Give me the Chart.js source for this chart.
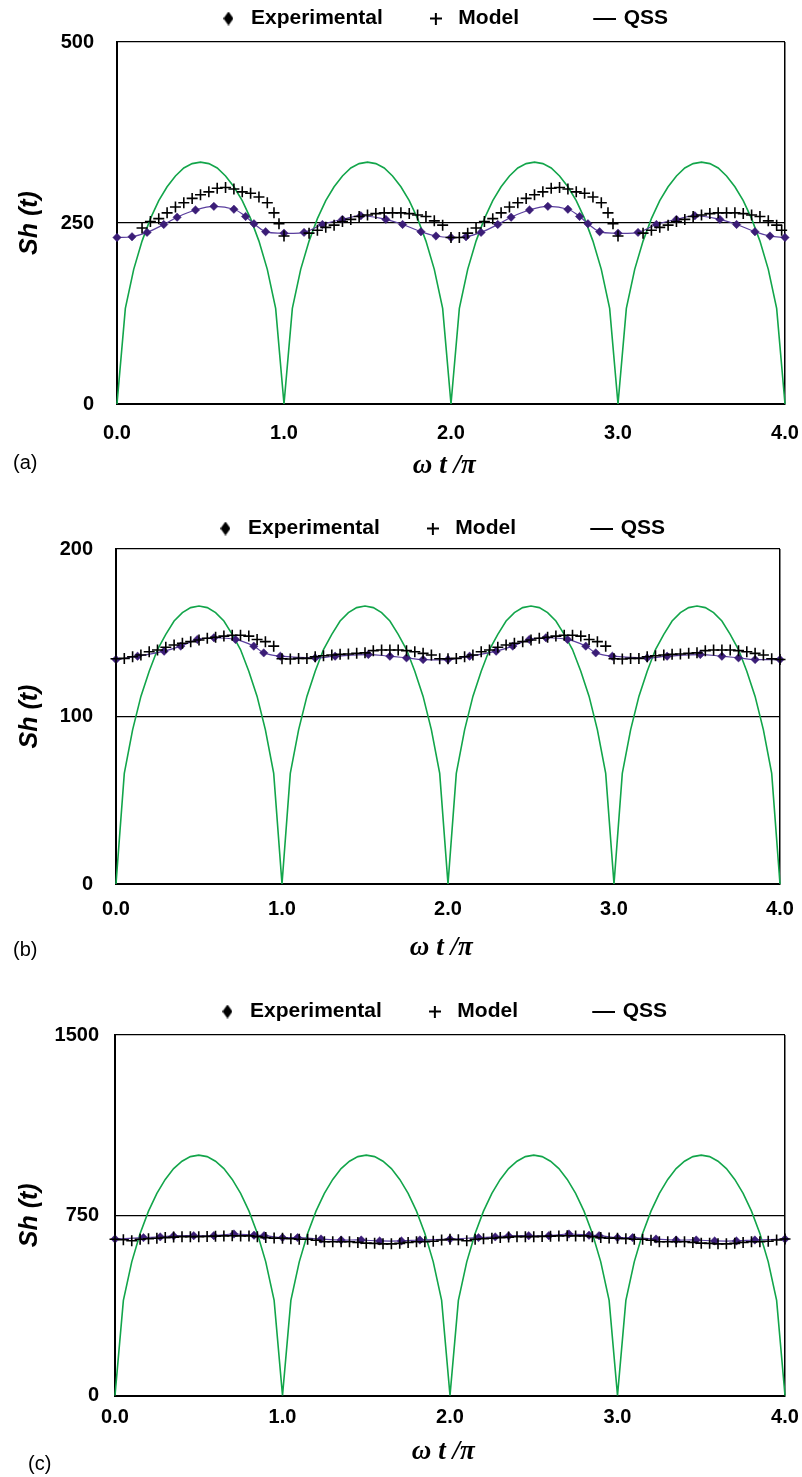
<!DOCTYPE html>
<html><head><meta charset="utf-8">
<script src="https://cdn.jsdelivr.net/npm/chart.js@4.4.1/dist/chart.umd.min.js"></script>
<style>
html,body{margin:0;padding:0;background:#fff;}
body{width:802px;height:1477px;position:relative;overflow:hidden;}
canvas{position:absolute;left:0;}
.tag{position:absolute;font:20px 'Liberation Sans',Arial,sans-serif;color:#000;line-height:23px;white-space:nowrap;}
</style></head>
<body>
<canvas id="ca" width="802" height="480" style="top:2px"></canvas>
<canvas id="cb" width="802" height="452" style="top:512px"></canvas>
<canvas id="cc" width="802" height="473" style="top:995px"></canvas>
<div class="tag" style="left:13px;top:451px">(a)</div>
<div class="tag" style="left:13px;top:938px">(b)</div>
<div class="tag" style="left:28px;top:1452px">(c)</div>
<script>
// ---------- text ----------
const legendLabels = ['Experimental', 'Model', 'QSS'];
const legendSpaces = [6, 11, 3];
const xTitle = 'ω t /π';
const xTitleTrail = 2;
const yTitle = 'Sh (t)';

// ---------- shared x grid (ωt/π) ----------
const gridX = [0,0.05,0.1,0.15,0.2,0.25,0.3,0.35,0.4,0.45,0.5,0.55,0.6,0.65,0.7,0.75,0.8,0.85,0.9,0.95,
1,1.05,1.1,1.15,1.2,1.25,1.3,1.35,1.4,1.45,1.5,1.55,1.6,1.65,1.7,1.75,1.8,1.85,1.9,1.95,
2,2.05,2.1,2.15,2.2,2.25,2.3,2.35,2.4,2.45,2.5,2.55,2.6,2.65,2.7,2.75,2.8,2.85,2.9,2.95,
3,3.05,3.1,3.15,3.2,3.25,3.3,3.35,3.4,3.45,3.5,3.55,3.6,3.65,3.7,3.75,3.8,3.85,3.9,3.95,4];

// ---------- panel (a) ----------
const yTicksA = [0, 250, 500];
const expXA = [0,0.09,0.18,0.28,0.36,0.47,0.58,0.70,0.77,0.82,0.89,1.00,1.12,1.23,1.35,1.46,1.61,1.71,1.82,1.91,
2.00,2.09,2.18,2.28,2.36,2.47,2.58,2.70,2.77,2.82,2.89,3.00,3.12,3.23,3.35,3.46,3.61,3.71,3.82,3.91,4.00];
const expYA = [230,231,237,248,258,268,273,269,259,249,238,236,237,248,255,260,255,248,238,232,
230,231,237,248,258,268,273,269,259,249,238,236,237,248,255,260,255,248,238,232,230];
const modelXA = [0.15,0.2,0.25,0.3,0.35,0.4,0.45,0.5,0.55,0.6,0.65,0.7,0.75,0.8,0.85,0.9,0.94,0.97,1.0,
1.15,1.2,1.25,1.3,1.35,1.4,1.45,1.5,1.55,1.6,1.65,1.7,1.75,1.8,1.85,1.9,1.95,
2.0,2.05,2.1,2.15,2.2,2.25,2.3,2.35,2.4,2.45,2.5,2.55,2.6,2.65,2.7,2.75,2.8,2.85,2.9,2.94,2.97,3.0,
3.15,3.2,3.25,3.3,3.35,3.4,3.45,3.5,3.55,3.6,3.65,3.7,3.75,3.8,3.85,3.9,3.95,3.98];
const modelYA = [243,252,256,264,272,278,284,289,293,298,299,297,293,291,286,278,264,249,232,
236,240,244,247,252,255,259,261,263,264,264,264,263,261,259,253,247,
230,230,236,243,252,256,264,272,278,284,289,293,298,299,297,293,291,286,278,264,249,232,
236,240,244,247,252,255,259,261,263,264,264,264,263,261,259,253,247,240];
const qssYA = [0,132,186,225,256,281,300,315,326,332,334,332,326,315,300,281,256,225,186,132,
0,132,186,225,256,281,300,315,326,332,334,332,326,315,300,281,256,225,186,132,
0,132,186,225,256,281,300,315,326,332,334,332,326,315,300,281,256,225,186,132,
0,132,186,225,256,281,300,315,326,332,334,332,326,315,300,281,256,225,186,132,0];

// ---------- panel (b) ----------
const yTicksB = [0, 100, 200];
const expXB = [0,0.13,0.29,0.39,0.49,0.59,0.72,0.83,0.89,0.99,1.20,1.32,1.52,1.65,1.75,1.85,
2.00,2.13,2.29,2.39,2.49,2.59,2.72,2.83,2.89,2.99,3.20,3.32,3.52,3.65,3.75,3.85,4.00];
const expYB = [134,136,139,142,146,147,146,142,138,136,135,136,137,136,135,134,
134,136,139,142,146,147,146,142,138,136,135,136,137,136,135,134,134];
const modelYB = [134.5,134.7,135.7,136.7,138.7,139.7,141.3,142.7,143.7,144.7,145.7,146.7,147.3,148,148.5,148.5,148,146,144.7,142,
134.5,134.3,134.7,134.7,135.7,136.3,136.7,137.1,137.3,137.7,138,139.3,139.7,139.7,139.7,139.3,138.7,137.7,136.7,134.5,
134.5,134.7,135.7,136.7,138.7,139.7,141.3,142.7,143.7,144.7,145.7,146.7,147.3,148,148.5,148.5,148,146,144.7,142,
134.5,134.3,134.7,134.7,135.7,136.3,136.7,137.1,137.3,137.7,138,139.3,139.7,139.7,139.7,139.3,138.7,137.7,136.7,134.5,134];
const qssYB = [0,66,92,112,127,140,149,157,162,165,166,165,162,157,149,140,127,112,92,66,
0,66,92,112,127,140,149,157,162,165,166,165,162,157,149,140,127,112,92,66,
0,66,92,112,127,140,149,157,162,165,166,165,162,157,149,140,127,112,92,66,
0,66,92,112,127,140,149,157,162,165,166,165,162,157,149,140,127,112,92,66,0];

// ---------- panel (c) ----------
const yTicksC = [0, 750, 1500];
const expXC = [0,0.17,0.27,0.35,0.47,0.59,0.71,0.83,0.89,1.00,1.09,1.23,1.35,1.47,1.58,1.71,1.82,
2.00,2.17,2.27,2.35,2.47,2.59,2.71,2.83,2.89,3.00,3.09,3.23,3.35,3.47,3.58,3.71,3.82,4.00];
const expYC = [651,657,660,664,665,665,672,667,665,657,657,651,647,647,643,643,647,
651,657,660,664,665,665,672,667,665,657,657,651,647,647,643,643,647,651];
const modelYC = [650,648,644,650,652,654,657,659,661,661,661,662,663,664,665,664,664,661,657,655,
654,652,650,650,646,640,640,640,640,637,634,633,631,631,633,637,640,640,642,647,
650,648,644,650,652,654,657,659,661,661,661,662,663,664,665,664,664,661,657,655,
654,652,650,650,646,640,640,640,640,637,634,633,631,631,633,637,640,640,642,647,651];
const qssYC = [0,396,556,674,767,841,899,944,975,994,1000,994,975,944,899,841,767,674,556,396,
0,396,556,674,767,841,899,944,975,994,1000,994,975,944,899,841,767,674,556,396,
0,396,556,674,767,841,899,944,975,994,1000,994,975,944,899,841,767,674,556,396,
0,396,556,674,767,841,899,944,975,994,1000,994,975,944,899,841,767,674,556,396,0];

// ---------- styles ----------
const PURPLE = '#3B1D77';
const PURPLE_LINE = '#5A3E9E';
const GREEN = '#12A54A';
const SANS = "'Liberation Sans', Arial, sans-serif";
const SERIF = "'Liberation Serif', 'Times New Roman', serif";

function pairs(xs, ys){ return xs.map((x,i)=>({x:x, y:ys[i]})); }

function markerCanvas(kind){
  const c = document.createElement('canvas');
  const g = c.getContext('2d');
  if (kind === 'diamond'){
    c.width = 10; c.height = 14;
    g.fillStyle = '#000';
    g.beginPath(); g.moveTo(5,0); g.lineTo(10,7); g.lineTo(5,14); g.lineTo(0,7); g.closePath(); g.fill();
  } else if (kind === 'plus'){
    c.width = 12; c.height = 12;
    g.fillStyle = '#000';
    g.fillRect(0,5,12,2); g.fillRect(5,0,2,12);
  } else {
    c.width = 30; c.height = 2;
    g.fillStyle = '#000';
    g.fillRect(7,0,23,2);
  }
  return c;
}
const legendMarkers = [markerCanvas('diamond'), markerCanvas('plus'), markerCanvas('dash')];

const legendExtra = {
  id: 'legendExtra',
  beforeLayout(chart, args, opts){
    const lg = chart.legend;
    if (lg && !lg.__wrapped){
      const fit = lg.fit.bind(lg);
      lg.fit = function(){ fit(); this.height += (opts.extra || 0); };
      lg.__wrapped = true;
    }
  }
};

function build(id, p){
  const el = document.getElementById(id);
  const lastX = 4;
  return new Chart(el, {
    type: 'scatter',
    plugins: [legendExtra],
    data: { datasets: [
      { label: legendLabels[0], data: pairs(p.expX, p.expY), showLine: true, tension: 0.4,
        borderColor: PURPLE_LINE, borderWidth: 1.2, pointStyle: 'rectRot', pointRadius: 4.2,
        pointBackgroundColor: PURPLE, pointBorderColor: PURPLE, pointBorderWidth: 0.5, clip: false, order: 1 },
      { label: legendLabels[1], data: pairs(p.modelX, p.modelY), showLine: false, pointStyle: 'cross',
        pointRadius: 5.5, pointBorderColor: '#000', borderColor: '#000', pointBorderWidth: 1.6, clip: false, order: 0 },
      { label: legendLabels[2], data: pairs(gridX, p.qssY), showLine: true, tension: 0,
        borderColor: GREEN, borderWidth: 1.6, pointRadius: 0, clip: false, order: 2 }
    ]},
    options: {
      responsive: false, animation: false, events: [],
      layout: { padding: { left: 0, right: p.padR, top: 0, bottom: 0 } },
      plugins: {
        tooltip: { enabled: false },
        legendExtra: { extra: p.legendExtra },
        legend: {
          display: true, position: 'top', fullSize: false, align: 'center',
          labels: {
            usePointStyle: true, pointStyleWidth: 24, padding: 6, color: '#000',
            font: { family: SANS, size: 21, weight: 'bold' },
            generateLabels: () => legendLabels.map((t,i)=>({
              text: t + ' '.repeat(legendSpaces[i]), pointStyle: legendMarkers[i],
              fillStyle: '#000', strokeStyle: '#000', lineWidth: 0, hidden: false,
              datasetIndex: i, fontColor: '#000'
            }))
          }
        }
      },
      scales: {
        x: {
          type: 'linear', min: 0, max: lastX,
          ticks: { stepSize: 1, padding: p.xTickPad, color: '#000', maxRotation: 0, autoSkip: false,
                   font: { family: SANS, size: 20, weight: 'bold' }, callback: v => Number(v).toFixed(1) },
          grid: { drawTicks: false, lineWidth: 1.5,
                  color: c => (c.tick && (c.tick.value === 0 || c.tick.value === lastX)) ? '#000' : 'rgba(0,0,0,0)' },
          border: { display: true, color: '#000', width: 2 },
          title: { display: true, text: xTitle + ' '.repeat(xTitleTrail), color: '#000', padding: { top: 0, bottom: 0 },
                   font: { family: SERIF, size: 27, weight: 'bold', style: 'italic' } },
          afterFit: s => { s.height = p.xAxisH; s.paddingLeft = 0; s.paddingRight = 0; }
        },
        y: {
          type: 'linear', min: p.yTicks[0], max: p.yTicks[p.yTicks.length-1],
          afterBuildTicks: s => { s.ticks = p.yTicks.map(v => ({ value: v })); },
          ticks: { padding: p.yTickPad, color: '#000', font: { family: SANS, size: 20, weight: 'bold' },
                   callback: v => String(v) },
          grid: { drawTicks: false, color: '#000', lineWidth: 1.3 },
          border: { display: true, color: '#000', width: 2 },
          title: { display: true, text: yTitle, color: '#000', padding: { top: p.yTitlePad, bottom: 0 },
                   font: { family: SANS, size: 25, weight: 'bold', style: 'italic' } },
          afterFit: s => { s.width = p.yAxisW; s.paddingTop = 0; s.paddingBottom = 0; }
        }
      }
    }
  });
}

build('ca', { expX: expXA, expY: expYA, modelX: modelXA, modelY: modelYA, qssY: qssYA, yTicks: yTicksA,
  padR: 17, yAxisW: 117, xAxisH: 78, xTickPad: 17, yTickPad: 23, yTitlePad: 15, legendExtra: 3 });
build('cb', { expX: expXB, expY: expYB, modelX: gridX, modelY: modelYB, qssY: qssYB, yTicks: yTicksB,
  padR: 22, yAxisW: 116, xAxisH: 80, xTickPad: 13, yTickPad: 23, yTitlePad: 15, legendExtra: 0 });
build('cc', { expX: expXC, expY: expYC, modelX: gridX, modelY: modelYC, qssY: qssYC, yTicks: yTicksC,
  padR: 17, yAxisW: 115, xAxisH: 72.5, xTickPad: 9.5, yTickPad: 16, yTitlePad: 15, legendExtra: 3 });
</script>
</body></html>
